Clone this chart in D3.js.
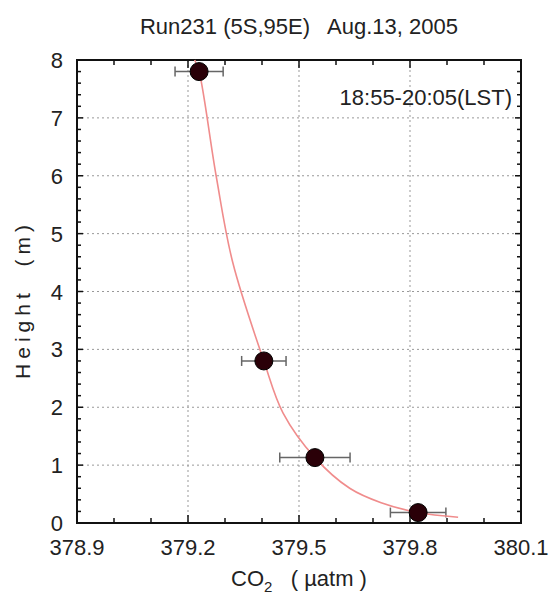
<!DOCTYPE html>
<html>
<head>
<meta charset="utf-8">
<script src="https://cdn.jsdelivr.net/npm/d3@7"></script>
<style>
  body { margin: 0; background: #fff; }
  text { font-family: "Liberation Sans", Arial, sans-serif; fill: #222; }
</style>
</head>
<body>
<div id="chart"></div>
<script>
// data
const co2 = [379.23, 379.405, 379.543, 379.822];
const height = [7.8, 2.8, 1.13, 0.18];
const co2Err = [0.065, 0.06, 0.095, 0.075];

// fitted profile, points
const fitCO2 = [379.218, 379.23, 379.276, 379.321, 379.405, 379.457, 379.543, 379.637, 379.722, 379.822, 379.93];
const fitHeight = [8.0, 7.8, 6.0, 4.5, 2.8, 1.9, 1.13, 0.6, 0.35, 0.18, 0.1];

const xTicks = [378.9, 379.2, 379.5, 379.8, 380.1];
const yTicks = [0, 1, 2, 3, 4, 5, 6, 7, 8];

const W = 551, H = 594;
const margin = { top: 60, right: 30, bottom: 71, left: 77 };
const iw = W - margin.left - margin.right,
  ih = H - margin.top - margin.bottom;

const svg = d3.select("#chart").append("svg")
  .attr("width", W).attr("height", H);

const x = d3.scaleLinear().domain([378.9, 380.1]).range([0, iw]);
const y = d3.scaleLinear().domain([0, 8]).range([ih, 0]);

const g = svg.append("g").attr("transform", `translate(${margin.left},${margin.top})`);

// dotted grid
g.append("g").selectAll("line")
  .data(xTicks.slice(1, -1))
  .join("line")
  .attr("x1", d => x(d)).attr("x2", d => x(d))
  .attr("y1", 0).attr("y2", ih)
  .attr("stroke", "#999").attr("stroke-width", 1).attr("stroke-dasharray", "2,3");
g.append("g").selectAll("line")
  .data(yTicks.slice(1, -1))
  .join("line")
  .attr("y1", d => y(d)).attr("y2", d => y(d))
  .attr("x1", 0).attr("x2", iw)
  .attr("stroke", "#999").attr("stroke-width", 1).attr("stroke-dasharray", "2,3");

// inward ticks on all four sides
const xMinor = d3.range(0, 13).map(i => 378.9 + i * 0.1);
const yMinor = d3.range(0, 41).map(i => i * 0.2);
const isMajorX = d => Math.abs(((d - 378.9) / 0.3) - Math.round((d - 378.9) / 0.3)) < 1e-6;
const isMajorY = d => Math.abs(d - Math.round(d)) < 1e-6;

const ticks = g.append("g").attr("stroke", "#111").attr("stroke-width", 1.5);
xMinor.forEach(d => {
  const len = isMajorX(d) ? 8 : 5;
  ticks.append("line").attr("x1", x(d)).attr("x2", x(d)).attr("y1", ih).attr("y2", ih - len);
  ticks.append("line").attr("x1", x(d)).attr("x2", x(d)).attr("y1", 0).attr("y2", len);
});
yMinor.forEach(d => {
  const len = isMajorY(d) ? 6 : 4;
  ticks.append("line").attr("y1", y(d)).attr("y2", y(d)).attr("x1", 0).attr("x2", len);
  ticks.append("line").attr("y1", y(d)).attr("y2", y(d)).attr("x1", iw).attr("x2", iw - len);
});

// frame
g.append("rect")
  .attr("width", iw).attr("height", ih)
  .attr("fill", "none").attr("stroke", "#111").attr("stroke-width", 2);

// tick labels
g.append("g").selectAll("text")
  .data(xTicks)
  .join("text")
  .attr("x", d => x(d)).attr("y", ih + 32)
  .attr("text-anchor", "middle")
  .style("font-size", "22px")
  .text(d => d.toFixed(1));
g.append("g").selectAll("text")
  .data(yTicks)
  .join("text")
  .attr("x", -14).attr("y", d => y(d) + 8)
  .attr("text-anchor", "end")
  .style("font-size", "22px")
  .text(d => d);

// error bars
const pts = co2.map((c, i) => ({ c, h: height[i], e: co2Err[i] }));
const eb = g.append("g").attr("stroke", "#666").attr("stroke-width", 1.5);
pts.forEach(p => {
  eb.append("line").attr("x1", x(p.c - p.e)).attr("x2", x(p.c + p.e)).attr("y1", y(p.h)).attr("y2", y(p.h));
  [p.c - p.e, p.c + p.e].forEach(v => {
    eb.append("line").attr("x1", x(v)).attr("x2", x(v)).attr("y1", y(p.h) - 5).attr("y2", y(p.h) + 5);
  });
});

// fitted curve
const line = d3.line().x(d => x(d[0])).y(d => y(d[1])).curve(d3.curveCatmullRom);
g.append("path")
  .datum(fitCO2.map((c, i) => [c, fitHeight[i]]))
  .attr("d", line)
  .attr("fill", "none").attr("stroke", "#f08c8c").attr("stroke-width", 1.6);

// points
g.append("g").selectAll("circle")
  .data(pts)
  .join("circle")
  .attr("cx", d => x(d.c)).attr("cy", d => y(d.h))
  .attr("r", 9)
  .attr("fill", "#2a0008").attr("stroke", "#000").attr("stroke-width", 1);

// time label
g.append("text")
  .attr("x", iw - 9).attr("y", 45)
  .attr("text-anchor", "end")
  .style("font-size", "22px")
  .text("18:55-20:05(LST)");

// title
svg.append("text")
  .attr("x", margin.left + iw / 2).attr("y", 34)
  .attr("text-anchor", "middle")
  .style("font-size", "22px")
  .style("white-space", "pre")
  .text("Run231 (5S,95E)   Aug.13, 2005");

// axis titles
const xl = svg.append("text")
  .attr("x", margin.left + iw / 2).attr("y", 586)
  .attr("text-anchor", "middle")
  .style("font-size", "22px")
  .style("white-space", "pre");
xl.append("tspan").text("CO");
xl.append("tspan").attr("dy", 6).style("font-size", "15px").text("2");
xl.append("tspan").attr("dy", -6).text("   ( \u00b5atm )");

svg.append("text")
  .attr("transform", `translate(30,${margin.top + ih / 2 + 8}) rotate(-90)`)
  .attr("text-anchor", "middle")
  .style("font-size", "21px")
  .style("letter-spacing", "5px")
  .style("white-space", "pre")
  .text("Height  (m)");
</script>
</body>
</html>
